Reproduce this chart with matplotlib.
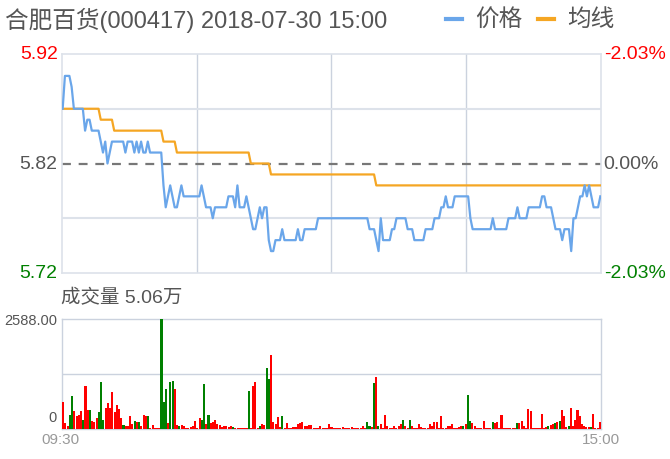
import matplotlib
matplotlib.use("Agg")
import matplotlib.pyplot as plt
from matplotlib.lines import Line2D

plt.rcParams['font.family'] = ['Liberation Sans', 'Noto Sans CJK SC', 'DejaVu Sans']

title = "合肥百货(000417) 2018-07-30 15:00"
legend_labels = ["价格", "均线"]
prev_close = 5.82
price_ticks = [5.72, 5.82, 5.92]
price_tick_labels = ["5.72", "5.82", "5.92"]
pct_labels = ["-2.03%", "0.00%", "-2.03%"]
vol_title = "成交量 5.06万"
vol_max = 2588.0
time_labels = ["09:30", "15:00"]

price = [
    5.87, 5.90, 5.90, 5.90, 5.89, 5.87, 5.87, 5.87, 5.87, 5.87,
    5.85, 5.86, 5.86, 5.85, 5.85, 5.85, 5.85, 5.84, 5.83, 5.84,
    5.82, 5.83, 5.84, 5.84, 5.84, 5.84, 5.84, 5.84, 5.83, 5.84,
    5.84, 5.84, 5.83, 5.84, 5.83, 5.84, 5.83, 5.83, 5.84, 5.83,
    5.83, 5.83, 5.83, 5.83, 5.83, 5.80, 5.78, 5.79, 5.80, 5.79,
    5.78, 5.78, 5.79, 5.80, 5.79, 5.79, 5.79, 5.79, 5.79, 5.79,
    5.79, 5.79, 5.80, 5.79, 5.78, 5.78, 5.78, 5.77, 5.78, 5.78,
    5.78, 5.78, 5.78, 5.78, 5.79, 5.79, 5.79, 5.78, 5.80, 5.78,
    5.78, 5.78, 5.79, 5.78, 5.77, 5.76, 5.76, 5.77, 5.78, 5.77,
    5.78, 5.78, 5.75, 5.74, 5.74, 5.75, 5.75, 5.75, 5.76, 5.75,
    5.75, 5.75, 5.75, 5.75, 5.75, 5.76, 5.75, 5.75, 5.76, 5.76,
    5.76, 5.76, 5.76, 5.76, 5.77, 5.77, 5.77, 5.77, 5.77, 5.77,
    5.77, 5.77, 5.77, 5.77, 5.77, 5.77, 5.77, 5.77, 5.77, 5.77,
    5.77, 5.77, 5.77, 5.77, 5.77, 5.77, 5.77, 5.76, 5.76, 5.76,
    5.75, 5.74, 5.77, 5.75, 5.75, 5.75, 5.75, 5.76, 5.76, 5.77,
    5.77, 5.77, 5.77, 5.77, 5.76, 5.76, 5.76, 5.75, 5.75, 5.75,
    5.75, 5.75, 5.76, 5.76, 5.76, 5.76, 5.77, 5.77, 5.77, 5.78,
    5.78, 5.79, 5.78, 5.78, 5.78, 5.79, 5.79, 5.79, 5.79, 5.79,
    5.79, 5.79, 5.77, 5.76, 5.76, 5.76, 5.76, 5.76, 5.76, 5.76,
    5.76, 5.76, 5.77, 5.76, 5.76, 5.76, 5.76, 5.76, 5.76, 5.77,
    5.77, 5.77, 5.77, 5.78, 5.77, 5.77, 5.77, 5.77, 5.78, 5.78,
    5.78, 5.78, 5.78, 5.78, 5.79, 5.79, 5.78, 5.78, 5.78, 5.77,
    5.76, 5.76, 5.76, 5.75, 5.76, 5.76, 5.76, 5.74, 5.77, 5.77,
    5.78, 5.79, 5.79, 5.80, 5.79, 5.80, 5.79, 5.78, 5.78, 5.78,
    5.79,
]

avg = (
    [5.87] * 17 + [5.86] * 6 + [5.85] * 22 + [5.84] * 6 +
    [5.83] * 33 + [5.82] * 9 + [5.81] * 47 + [5.80] * 101
)

volume = [
    627, 141, 78, 330, 769, 423, 298, 330, 423, 220,
    1004, 439, 447, 188, 157, 251, 392, 1098, 204, 486,
    612, 486, 862, 392, 564, 470, 267, 94, 78, 78,
    298, 110, 188, 172, 157, 78, 330, 314, 298, 31,
    94, 31, 16, 31, 2588, 643, 941, 141, 1098, 1129,
    941, 94, 78, 94, 78, 16, 31, 47, 78, 188,
    31, 251, 220, 1051, 110, 330, 141, 172, 220, 125,
    94, 47, 63, 78, 47, 78, 47, 31, 16, 16,
    16, 16, 31, 894, 31, 1019, 1113, 31, 78, 110,
    94, 1443, 1176, 1741, 157, 125, 282, 47, 314, 31,
    141, 31, 31, 47, 47, 110, 141, 157, 78, 63,
    94, 94, 31, 16, 16, 78, 31, 16, 16, 110,
    47, 31, 31, 16, 16, 47, 31, 16, 16, 47,
    16, 16, 16, 16, 63, 16, 172, 63, 47, 1082,
    1223, 78, 110, 31, 330, 78, 31, 31, 78, 31,
    78, 125, 204, 78, 31, 204, 78, 31, 31, 125,
    47, 31, 31, 31, 125, 78, 157, 157, 31, 314,
    31, 31, 78, 63, 110, 31, 31, 47, 78, 78,
    110, 800, 188, 141, 78, 31, 31, 16, 188, 31,
    16, 31, 157, 141, 157, 31, 330, 31, 31, 31,
    31, 31, 31, 141, 141, 188, 78, 31, 470, 423,
    31, 31, 31, 31, 361, 31, 47, 78, 94, 110,
    141, 157, 188, 439, 314, 47, 78, 486, 78, 204,
    439, 314, 110, 78, 47, 47, 47, 345, 31, 31,
    172,
]

vol_up = (
    "rrrggrrrrg" "rrgrrrgggr" "rrrrrrrgrr" "rrgrgrrrgr"
    "rrrrgggrgg" "rrgrrrrrrr" "rrggrgrrrr" "rrrrrrgrrr"
    "rrrgrrrrgr" "rggrrrrrgr" "rrrrrrrrrr" "rrrrrrrrrr"
    "rrrrrrrrrr" "rrrrrrggrg" "rgrrrrrrrr" "rrgrrgrrrr"
    "rrrrrrrrrr" "rrrrrrrrrg" "rggrrrrrrr" "rrgrrrrrrr"
    "rrrgrrrrrr" "rrrrrrrgrr" "grgrrrgrrr" "rrrrrrgrrr"
    "r"
)

RED = "#ff0000"
GREEN = "#008000"
BLUE = "#6aa6ea"
ORANGE = "#f5a623"
GRID = "#dde2ea"
VGRID = "#cbd2de"
TXT = "#555555"

fig = plt.figure(figsize=(6.7, 4.6), dpi=100)
W, H = 670.0, 460.0

# ---------- price panel ----------
x0, x1 = 62, 601
pt, pb = 55, 274
ax = fig.add_axes([x0 / W, (H - pb) / H, (x1 - x0) / W, (pb - pt) / H])
n = len(price)
xs = list(range(n))
ax.set_xlim(-0.3, n - 1 + 0.3)
ax.set_ylim(price_ticks[0], price_ticks[-1])

for xv in [60, 120, 180]:
    ax.axvline(xv, color=VGRID, lw=1, zorder=1)
for yv in [5.87, 5.77]:
    ax.axhline(yv, color=GRID, lw=1.5, zorder=1)
ax.axhline(prev_close, color="#777777", lw=1.6, ls=(0, (4, 3.5)), zorder=2)

ax.plot(xs, avg, color=ORANGE, lw=1.6, zorder=3)
ax.plot(xs, price, color=BLUE, lw=1.6, zorder=4)

ax.set_xticks([])
ax.set_yticks([])
for s in ax.spines.values():
    s.set_color(GRID)
    s.set_linewidth(1.2)

tick_colors = [GREEN, TXT, RED]
ytr = ax.get_yaxis_transform()
for v, lab, pl, c in zip(price_ticks, price_tick_labels, pct_labels, tick_colors):
    ax.text(-0.008, v, lab, transform=ytr, ha="right", va="center",
            fontsize=14, color=c)
    ax.text(1.005, v, pl, transform=ytr, ha="left", va="center",
            fontsize=14, color=c)

# ---------- title & legend ----------
fig.text(5 / W, 1 - 20 / H, title, ha="left", va="center", fontsize=17, color=TXT)
for (lx, col, lab) in [(446, BLUE, legend_labels[0]), (538, ORANGE, legend_labels[1])]:
    fig.add_artist(Line2D([lx / W, (lx + 16) / W], [1 - 20 / H, 1 - 20 / H],
                          color=col, lw=3, transform=fig.transFigure))
    fig.text((lx + 29) / W, 1 - 20 / H, lab, ha="left", va="center",
             fontsize=17, color=TXT)

# ---------- volume panel ----------
vt, vb = 320, 430
axv = fig.add_axes([x0 / W, (H - vb) / H, (x1 - x0) / W, (vb - vt) / H])
axv.set_xlim(-0.5, n - 0.5)
axv.set_ylim(0, vol_max)
cols = [RED if c == "r" else GREEN for c in vol_up]
axv.bar(xs, volume, width=0.92, color=cols, linewidth=0, zorder=3)
axv.axhline(vol_max / 2, color=VGRID, lw=1, zorder=1)
axv.set_xticks([])
axv.set_yticks([])
for s in axv.spines.values():
    s.set_color(VGRID)
    s.set_linewidth(1)

fig.text(61 / W, 1 - 298 / H, vol_title, ha="left", va="center", fontsize=14, color=TXT)
fig.text(57 / W, 1 - 321 / H, "2588.00", ha="right", va="center", fontsize=10.5, color=TXT)
fig.text(57 / W, 1 - 418 / H, "0", ha="right", va="center", fontsize=10.5, color=TXT)
fig.text(60 / W, 1 - 440 / H, time_labels[0], ha="center", va="center", fontsize=11, color="#999999")
fig.text(601 / W, 1 - 440 / H, time_labels[1], ha="center", va="center", fontsize=11, color="#999999")

fig.savefig("out.png", dpi=100)
